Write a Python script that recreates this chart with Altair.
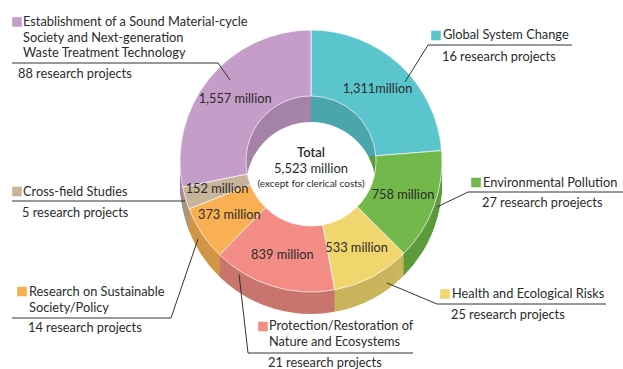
import math
import altair as alt
import pandas as pd

# ---- data ----
categories = [
    "Global System Change",
    "Environmental Pollution",
    "Health and Ecological Risks",
    "Protection/Restoration of Nature and Ecosystems",
    "Research on Sustainable Society/Policy",
    "Cross-field Studies",
    "Establishment of a Sound Material-cycle Society and Next-generation Waste Treatment Technology",
]
budgets = [1311, 758, 533, 839, 373, 152, 1557]  # million yen
value_labels = ["1,311million", "758 million", "533 million", "839 million",
                "373 million", "152 million", "1,557 million"]
project_labels = ["16 research projects", "27 research proejects", "25 research projects",
                  "21 research projects", "14 research projects", "5 research projects",
                  "88 research projects"]
legend_lines = [
    ["Global System Change"],
    ["Environmental Pollution"],
    ["Health and Ecological Risks"],
    ["Protection/Restoration of", "Nature and Ecosystems"],
    ["Research on Sustainable", "Society/Policy"],
    ["Cross-field Studies"],
    ["Establishment of a Sound Material-cycle", "Society and Next-generation", "Waste Treatment Technology"],
]
center_lines = ["Total", "5,523 million", "(except for clerical costs)"]

# ---- styles ----
top_colors = ["#5BC5CD", "#72B84A", "#F0D66C", "#F28C84", "#F9B053", "#C8B49A", "#C49DC8"]
side_colors = ["#4AA5AC", "#5C9B3C", "#CAB45C", "#C9756E", "#D29645", "#A8977F", "#A582A8"]
FONT = "Lato"
TXT = "#2b2b2b"

# ---- layout (pixels) ----
CX, CY, R, RIN, DEPTH, HOLE_DEPTH = 311, 161, 131, 65, 22, 26
LABEL_R = 98

layout = [
    dict(sq=(436, 35.5), tx=443, ty=35, ul=(428, 572, 45), pj=(442, 57), lead=(405, 82)),
    dict(sq=(476, 182.5), tx=483, ty=183, ul=(468, 623, 192), pj=(482, 203), lead=(437, 207)),
    dict(sq=(445, 294), tx=452, ty=294, ul=(437, 606, 304), pj=(451, 315), lead=(387, 283)),
    dict(sq=(263, 326.5), tx=269, ty=326, ul=(248, 413, 353), pj=(268, 363), lead=(239, 274)),
    dict(sq=(22, 291.5), tx=29, ty=292, ul=(12, 171, 318), pj=(28, 328), lead=(198, 239)),
    dict(sq=(17, 191.5), tx=23, ty=192, ul=(12, 185, 201), pj=(22, 213), lead=None),
    dict(sq=(17, 22), tx=23, ty=22, ul=(12, 218, 63), pj=(18, 74), lead=(230, 80)),
]
LINE_STEP = 15.5

df = pd.DataFrame({
    "category": categories,
    "budget": budgets,
    "label": value_labels,
    "idx": list(range(len(categories))),
    "top": top_colors,
    "side": side_colors,
})

base = alt.Chart(df).encode(
    theta=alt.Theta("budget:Q", stack=True),
    order=alt.Order("idx:Q"),
)

layers = []
# side extrusion (deep -> shallow)
for k in range(DEPTH, 0, -1):
    layers.append(
        base.mark_arc(outerRadius=R, innerRadius=0).encode(
            color=alt.Color("side:N", scale=None),
            x=alt.value(CX), y=alt.value(CY + k),
        )
    )
# inner wall of the hole
layers.append(
    base.mark_arc(outerRadius=RIN + 1, innerRadius=0).encode(
        color=alt.Color("side:N", scale=None),
        x=alt.value(CX), y=alt.value(CY),
    )
)
# floor of the hole (white)
layers.append(
    alt.Chart(pd.DataFrame({"a": [0]})).mark_arc(
        outerRadius=RIN, innerRadius=0, theta=0, theta2=2 * math.pi, fill="white"
    ).encode(x=alt.value(CX), y=alt.value(CY + HOLE_DEPTH))
)
# top face
layers.append(
    base.mark_arc(outerRadius=R, innerRadius=RIN, stroke="white", strokeWidth=0.7).encode(
        color=alt.Color("top:N", scale=None),
        x=alt.value(CX), y=alt.value(CY),
    )
)
# value labels on slices
layers.append(
    base.mark_text(radius=LABEL_R, font=FONT, fontSize=12.8, color=TXT).encode(
        text="label:N", x=alt.value(CX), y=alt.value(CY),
    )
)

# centre text
center_y = [CY - 8, CY + 8, CY + 23]
center_size = [13, 13, 10]
center_weight = [600, 400, 400]
for t, y, s, w in zip(center_lines, center_y, center_size, center_weight):
    layers.append(
        alt.Chart(pd.DataFrame({"t": [t]})).mark_text(
            font=FONT, fontSize=s, fontWeight=w, color=TXT, align="center", baseline="middle"
        ).encode(text="t:N", x=alt.value(CX), y=alt.value(y))
    )

# legend annotations
txt_rows, sq_rows, rule_rows = [], [], []
for i, lay in enumerate(layout):
    for j, line in enumerate(legend_lines[i]):
        txt_rows.append(dict(x=lay["tx"], y=lay["ty"] + j * LINE_STEP, t=line))
    txt_rows.append(dict(x=lay["pj"][0], y=lay["pj"][1], t=project_labels[i]))
    sq_rows.append(dict(x=lay["sq"][0], y=lay["sq"][1], c=top_colors[i]))
    x1, x2, yu = lay["ul"]
    rule_rows.append(dict(x=x1, y=yu, x2=x2, y2=yu))
    if lay["lead"] is not None:
        sx = x1 if abs(x1 - CX) < abs(x2 - CX) else x2
        rule_rows.append(dict(x=sx, y=yu, x2=lay["lead"][0], y2=lay["lead"][1]))

txt_df = pd.DataFrame(txt_rows)
sq_df = pd.DataFrame(sq_rows)
rule_df = pd.DataFrame(rule_rows)

layers.append(
    alt.Chart(rule_df).mark_rule(color="#333333", strokeWidth=1).encode(
        x=alt.X("x:Q", scale=None), y=alt.Y("y:Q", scale=None),
        x2="x2:Q", y2="y2:Q",
    )
)
layers.append(
    alt.Chart(sq_df).mark_square(size=92, opacity=1).encode(
        x=alt.X("x:Q", scale=None), y=alt.Y("y:Q", scale=None),
        color=alt.Color("c:N", scale=None),
    )
)
layers.append(
    alt.Chart(txt_df).mark_text(font=FONT, fontSize=12.8, color=TXT, align="left", baseline="middle").encode(
        x=alt.X("x:Q", scale=None), y=alt.Y("y:Q", scale=None), text="t:N",
    )
)

chart = alt.layer(*layers).properties(
    width=623, height=369,
    autosize=alt.AutoSizeParams(type="none"),
    padding=0,
    background="white",
).configure_view(stroke=None)

chart.save("out.html", embed_options={"renderer": "svg", "actions": False})
